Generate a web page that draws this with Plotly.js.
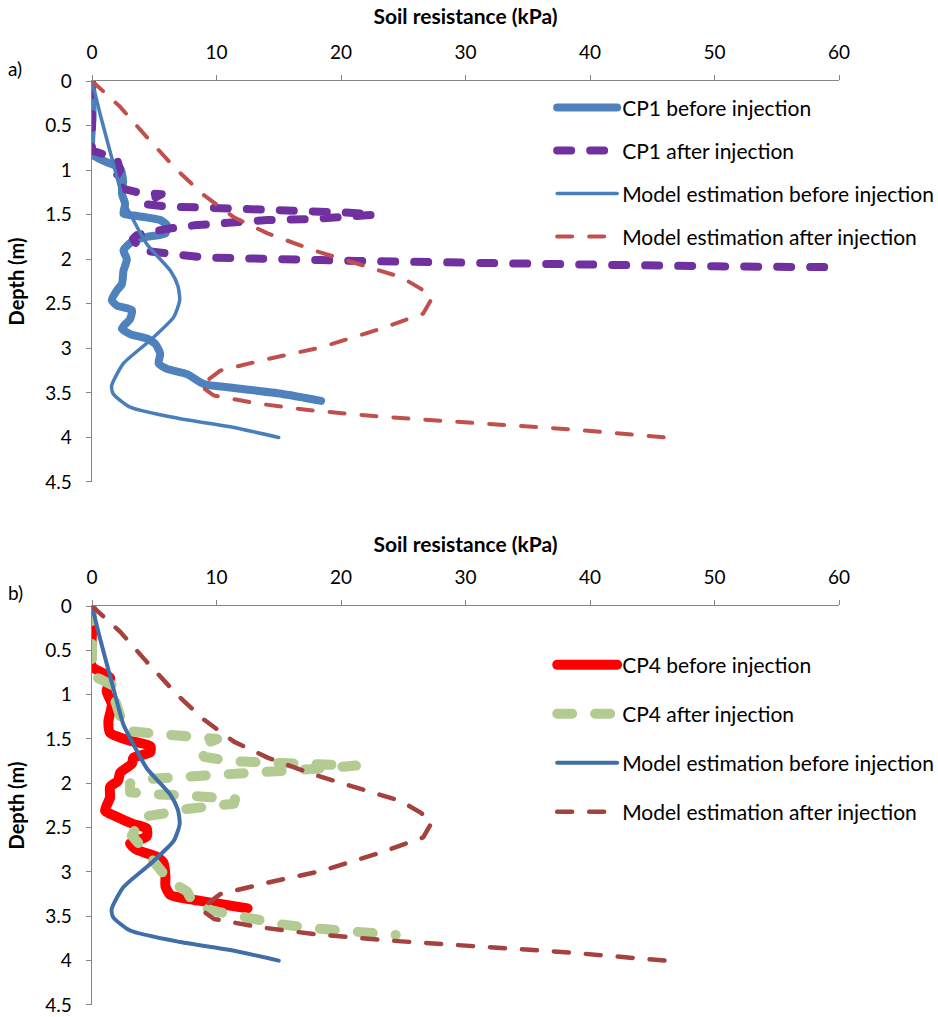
<!DOCTYPE html>
<html><head><meta charset="utf-8">
<script src="https://cdn.plot.ly/plotly-3.0.1.min.js"></script>
<style>body{margin:0;background:#fff}#chart{width:938px;height:1017px}</style>
</head><body><div id="chart"></div>
<script>
// Model curves (same in both panels)
const modelBeforeX = [0,0.65,1.72,2.53,3.06,4.4,6.3,6.9,7.04,6.56,4.68,2.53,1.58,1.70,3.06,7.1,11.1,15.0];
const modelBeforeD = [0,0.37,0.93,1.34,1.49,1.83,2.13,2.30,2.46,2.65,2.91,3.17,3.42,3.51,3.66,3.79,3.88,4.0];
const modelAfterX = [0,2.26,4.4,6.83,8.98,11.4,14.1,17.8,22.2,24.8,26.4,27.3,26.6,23.2,18.4,14.1,10.3,8.7,9.8,13.3,17.8,23.5,31.0,38.5,46.0];
const modelAfterD = [0,0.29,0.63,1.0,1.28,1.53,1.71,1.90,2.09,2.20,2.33,2.44,2.61,2.78,2.99,3.12,3.25,3.42,3.53,3.62,3.70,3.77,3.84,3.91,4.0];
// CP1
const cp1BeforeX = [0,0.05,0,1.18,2.26,2.5,2.4,2.66,2.53,3.33,5.48,6.02,5.9,4.4,3.33,2.53,2.8,2.53,2.4,2.0,1.59,2.0,3.2,3.06,2.4,3.06,4.4,5.08,5.48,5.35,6.02,7.63,8.98,11.1,15.2,18.4];
const cp1BeforeD = [0,0.4,0.82,0.91,0.98,1.12,1.26,1.38,1.49,1.51,1.56,1.62,1.71,1.75,1.79,1.90,2.0,2.13,2.28,2.35,2.46,2.52,2.57,2.67,2.78,2.84,2.89,2.95,3.06,3.17,3.23,3.29,3.40,3.44,3.51,3.59];
const cp1AfterX = [0,0,0,2.0,2.26,1.72,2.53,3.7,5.6,4.1,6.0,9.0,12.0,15.0,18.0,21.0,22.7,20.5,17.6,14.1,11.4,9.2,8.2,6.0,3.6,3.3,3.9,5.75,9.0,12.2,15.2,18.4,21.3,24.3,27.5,30.8,40,50,60];
const cp1AfterD = [0,0.4,0.78,0.87,1.0,1.12,1.21,1.25,1.27,1.38,1.41,1.42,1.43,1.44,1.46,1.48,1.50,1.53,1.55,1.56,1.58,1.60,1.62,1.66,1.73,1.77,1.90,1.93,1.98,1.99,2.01,2.01,2.02,2.03,2.03,2.04,2.06,2.08,2.09];
// CP4
const cp4BeforeX = [0,0,0,1.45,1.18,1.59,1.32,1.45,3.06,4.68,4.68,3.33,3.2,2.26,2.1,1.45,1.45,1.05,1.72,3.33,4.4,4.4,3.06,3.6,5.2,5.75,5.9,5.9,6.3,7.9,9.8,12.5];
const cp4BeforeD = [0,0.3,0.68,0.81,0.96,1.11,1.30,1.43,1.52,1.58,1.65,1.71,1.78,1.88,1.97,2.04,2.16,2.31,2.36,2.46,2.51,2.60,2.68,2.75,2.83,2.90,3.05,3.16,3.26,3.31,3.35,3.41];
const cp4AfterX = [0,0,0,1.32,2.1,1.7,2.0,2.4,2.8,4.68,6.56,8.2,10.05,8.6,9.0,11.0,13.5,15.5,18.0,21.2,17.6,14.5,11.9,10.6,8.4,6.56,4.68,3.06,3.06,4.4,6.3,7.9,9.8,11.5,11.4,9.5,7.6,5.75,4.0,3.6,3.2,4.14,4.95,6.15,7.63,8.2,9.8,11.9,13.5,15.2,17.3,19.5,22.2,24.4];
const cp4AfterD = [0,0.4,0.78,0.87,0.93,1.0,1.15,1.30,1.41,1.43,1.47,1.47,1.50,1.58,1.70,1.75,1.76,1.78,1.78,1.80,1.84,1.86,1.88,1.90,1.90,1.91,1.95,2.0,2.10,2.12,2.12,2.14,2.16,2.18,2.23,2.25,2.29,2.34,2.38,2.49,2.59,2.74,2.90,3.09,3.22,3.37,3.44,3.50,3.56,3.59,3.63,3.65,3.69,3.71];

const xTicks = [0,10,20,30,40,50,60];
const yTicks = [0,0.5,1,1.5,2,2.5,3,3.5,4,4.5];
const yTickText = ['0','0.5','1','1.5','2','2.5','3','3.5','4','4.5'];
const xTitle = 'Soil resistance (kPa)';
const yTitle = 'Depth (m)';
const FONT = 'Lato, "Noto Sans", sans-serif';

function tr(x, y, name, color, width, dash, xa, ya, leg, shape, group) {
  return {x: x, y: y, name: name, mode: 'lines', xaxis: xa, yaxis: ya, legend: leg,
    legendgroup: group,
    line: {color: color, width: width, dash: dash, shape: shape || 'linear', smoothing: 0.6}};
}
const traces = [
  tr(cp1BeforeX, cp1BeforeD, 'CP1 before injection', '#4f81bd', 8, 'solid', 'x', 'y', 'legend', 'spline', 'a1'),
  tr(cp1AfterX, cp1AfterD, 'CP1 after injection', '#7030a0', 8, '14px,19px', 'x', 'y', 'legend', 'linear', 'a2'),
  tr(modelBeforeX, modelBeforeD, 'Model estimation before injection', '#4a7ebb', 3.5, 'solid', 'x', 'y', 'legend', 'spline', 'a3'),
  tr(modelAfterX, modelAfterD, 'Model estimation after injection', '#c0504d', 4, '15px,17px', 'x', 'y', 'legend', 'linear', 'a4'),
  tr(cp4BeforeX, cp4BeforeD, 'CP4 before injection', '#ff0000', 10, 'solid', 'x2', 'y2', 'legend2', 'spline', 'b1'),
  tr(cp4AfterX, cp4AfterD, 'CP4 after injection', '#b3ca93', 10, '15px,23px', 'x2', 'y2', 'legend2', 'linear', 'b2'),
  tr(modelBeforeX, modelBeforeD, 'Model estimation before injection', '#3f6ea8', 4, 'solid', 'x2', 'y2', 'legend2', 'spline', 'b3'),
  tr(modelAfterX, modelAfterD, 'Model estimation after injection', '#a5413e', 4.5, '15px,17px', 'x2', 'y2', 'legend2', 'linear', 'b4')
];

function xa(anchor, standoff) {
  return {anchor: anchor, side: 'top', range: [0, 60], tickmode: 'array', tickvals: xTicks,
    showgrid: false, zeroline: false, showline: true, linecolor: '#868686', linewidth: 1.5,
    ticks: 'outside', ticklen: 5, tickcolor: '#868686', tickfont: {size: 19, color: '#000'},
    ticklabelstandoff: 8, ticklabeloverflow: 'allow',
    title: {text: '<b>' + xTitle + '</b>', font: {size: 21, color: '#000'}, standoff: standoff}};
}
function ya(anchor, dom) {
  return {anchor: anchor, domain: dom, range: [4.5005, 0], tickmode: 'array', tickvals: yTicks, ticktext: yTickText,
    showgrid: false, zeroline: false, showline: true, linecolor: '#868686', linewidth: 1.5,
    ticks: 'outside', ticklen: 5, tickcolor: '#868686', tickfont: {size: 19, color: '#000'},
    ticklabelstandoff: 10, ticklabeloverflow: 'allow',
    title: {text: '<b>' + yTitle + '</b>', font: {size: 20, color: '#000'}, standoff: 15}};
}

const layout = {
  width: 938, height: 1017,
  margin: {l: 92, r: 99, t: 81, b: 12, autoexpand: false},
  paper_bgcolor: '#fff', plot_bgcolor: '#fff',
  font: {family: FONT, color: '#000'},
  xaxis: xa('y', 9), yaxis: ya('x', [0.5660, 1]),
  xaxis2: xa('y2', 6), yaxis2: ya('x2', [0, 0.4318]),
  showlegend: true,
  legend: {x: 0.616, y: 0.993, xanchor: 'left', yanchor: 'top', bgcolor: 'rgba(0,0,0,0)',
    font: {size: 21, color: '#000'}, itemwidth: 60, tracegroupgap: 12.7},
  legend2: {x: 0.616, y: 0.390, xanchor: 'left', yanchor: 'top', bgcolor: 'rgba(0,0,0,0)',
    font: {size: 21, color: '#000'}, itemwidth: 60, tracegroupgap: 18.7},
  annotations: [
    {text: 'a)', xref: 'paper', yref: 'paper', x: -0.115, y: 1.014, xanchor: 'left', yanchor: 'middle', showarrow: false, font: {size: 19}},
    {text: 'b)', xref: 'paper', yref: 'paper', x: -0.115, y: 0.4468, xanchor: 'left', yanchor: 'middle', showarrow: false, font: {size: 19}}
  ]
};

Plotly.newPlot('chart', traces, layout, {displayModeBar: false, staticPlot: true}).then(function () {
  document.querySelectorAll('path.js-line').forEach(function (p) {
    p.style.strokeLinecap = 'round';
    p.style.strokeLinejoin = 'round';
  });
});
</script></body></html>
